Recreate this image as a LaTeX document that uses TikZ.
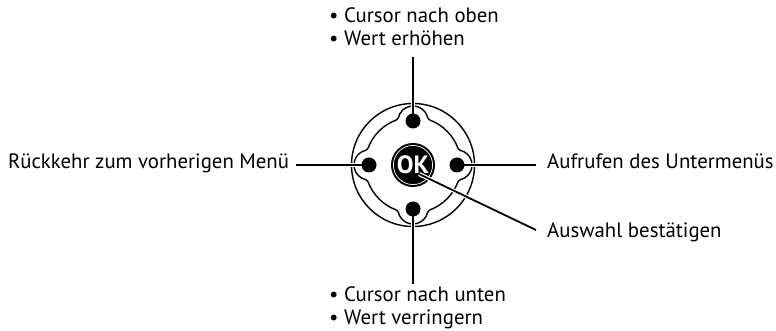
\documentclass[tikz,border=0pt]{standalone}
\usepackage{fontspec}
\setmainfont{PT Sans}
\begin{document}
\begin{tikzpicture}[x=1pt,y=1pt,
  lbl/.style={inner sep=0pt, anchor=base west, font=\fontsize{20.8}{24}\selectfont},
  ring/.style={line width=1.4pt},
  conn/.style={line width=1.8pt, preaction={draw=white, line width=4.2pt}},
  dotbtn/.style={circle, fill=black, minimum size=15pt, inner sep=0pt},
  okbtn/.style={circle, fill=black, minimum size=44pt, inner sep=0pt, text=white,
    font=\bfseries\fontsize{25}{25}\selectfont}]
\useasboundingbox (0,0) rectangle (776,331);
% ---- control pad ----
\coordinate (C) at (413,166);
\draw[ring] (C) circle[radius=61.5pt];
\begin{scope}[shift={(C)}]
  \foreach \k in {0,90,180,270}{
    \begin{scope}[rotate=\k]
      % bump around dot
      \draw[ring] (14.65,47.23) arc[start angle=12.43, end angle=167.57, radius=15pt];
      % fillets
      \draw[ring] (14.65,47.23) arc[start angle=192.43, end angle=249.86, radius=3pt];
      \draw[ring] (-14.65,47.23) arc[start angle=347.57, end angle=290.14, radius=3pt];
      % big arc to next bump
      \draw[ring] (69.86:48) arc[start angle=69.86, end angle=20.14, radius=48pt];
    \end{scope}
  }
\end{scope}
% ---- labels ----
\node[lbl] (up1) at (329,308) {• Cursor nach oben};
\node[lbl] (up2) at (329,285) {• Wert erhöhen};
\node[lbl] (back) at (8,162) {Rückkehr zum vorherigen Menü};
\node[lbl] (sub) at (547,162) {Aufrufen des Untermenüs};
\node[lbl] (sel) at (547,93) {Auswahl bestätigen};
\node[lbl] (dn1) at (329,29) {• Cursor nach unten};
\node[lbl] (dn2) at (329,6.5) {• Wert verringern};
% ---- free ends of connectors ----
\coordinate (upend) at (413,274);
\coordinate (dnend) at (413,47);
\coordinate (lfend) at (296,166);
\coordinate (rtend) at (536,166);
\coordinate (okend) at (536,101);
\coordinate (okstart) at (419,157);
% ---- buttons ----
\coordinate (pT) at (413,210);
\coordinate (pB) at (413,122);
\coordinate (pL) at (369,166);
\coordinate (pR) at (457,166);
% ---- connectors ----
\draw[conn] (upend) -- (pT);
\draw[conn] (dnend) -- (pB);
\draw[conn] (lfend) -- (pL);
\draw[conn] (rtend) -- (pR);
\node[dotbtn] (dT) at (pT) {};
\node[dotbtn] (dB) at (pB) {};
\node[dotbtn] (dL) at (pL) {};
\node[dotbtn] (dR) at (pR) {};
\node[okbtn] (ok) at (C) {OK};
\draw[white, line width=0.7pt] (ok.center) circle[radius=19.6pt];
\draw[conn] (okstart) -- (okend);
\end{tikzpicture}
\end{document}
